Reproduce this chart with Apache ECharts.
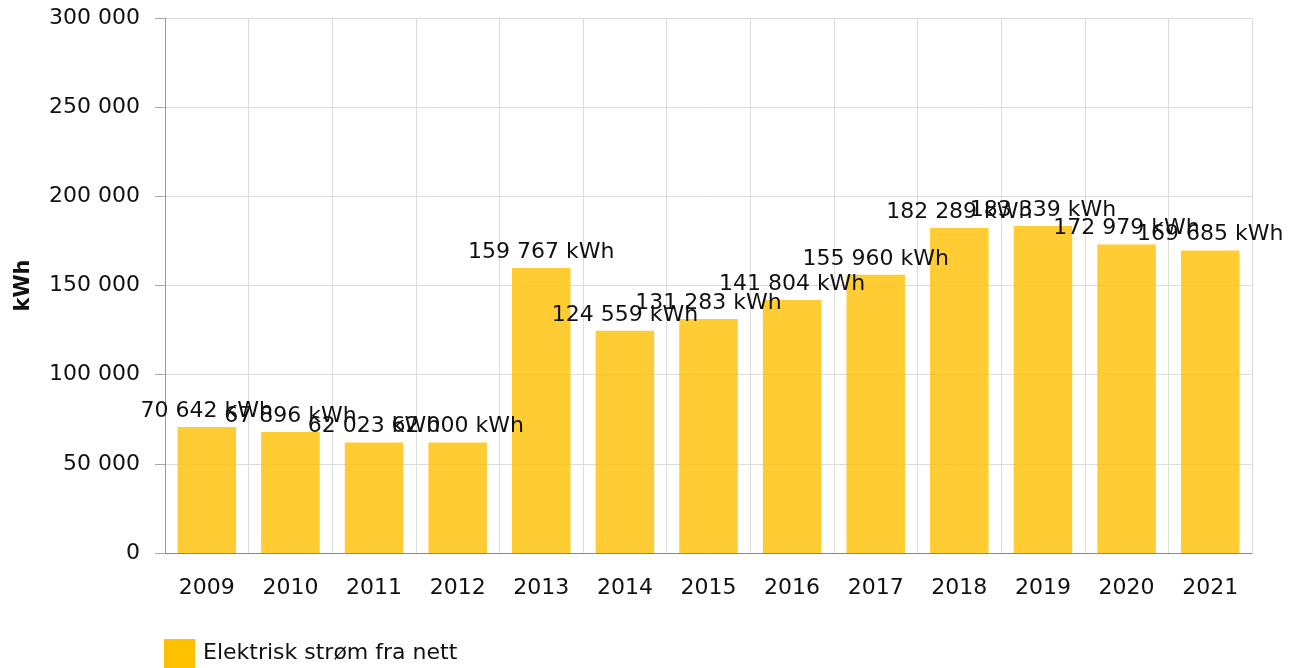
<!DOCTYPE html>
<html>
<head>
<meta charset="utf-8">
<script src="https://cdn.jsdelivr.net/npm/echarts@6/dist/echarts.min.js"></script>
<style>
html, body { margin: 0; padding: 0; background: #fff; }
#chart { width: 1299px; height: 668px; }
</style>
</head>
<body>
<div id="chart"></div>
<script>
var years = ["2009", "2010", "2011", "2012", "2013", "2014", "2015", "2016", "2017", "2018", "2019", "2020", "2021"];
var stromFraNett = [70642, 67896, 62023, 62000, 159767, 124559, 131283, 141804, 155960, 182289, 183339, 172979, 169685];
var seriesName = "Elektrisk strøm fra nett";

function fmt(v) {
  return String(v).replace(/\B(?=(\d{3})+(?!\d))/g, " ");
}

var chart = echarts.init(document.getElementById("chart"));
chart.setOption({
  animation: false,
  textStyle: { fontFamily: "DejaVu Sans" },
  grid: { left: 165, right: 47, top: 18, bottom: 115 },
  legend: {
    left: 164, bottom: 0, padding: 0,
    icon: "rect",
    itemWidth: 31, itemHeight: 29, itemGap: 8,
    textStyle: { fontSize: 22, color: "#111", fontFamily: "DejaVu Sans", padding: [0, 0, 0, 3] },
    data: [{ name: seriesName, itemStyle: { color: "#FFC000" } }]
  },
  xAxis: {
    type: "category",
    data: years,
    axisLine: { lineStyle: { color: "#888" } },
    axisTick: { alignWithLabel: true, length: 8, lineStyle: { color: "#aaa" } },
    axisLabel: { fontSize: 22, color: "#111", margin: 24 },
    splitLine: { show: true, lineStyle: { color: "#dcdcdc" } }
  },
  yAxis: {
    type: "value",
    min: 0, max: 300000, interval: 50000,
    name: "kWh",
    nameLocation: "middle",
    nameGap: 131,
    nameTextStyle: { fontSize: 21, fontWeight: "bold", color: "#111" },
    axisLine: { show: true, lineStyle: { color: "#999" } },
    axisTick: { show: true, length: 10, lineStyle: { color: "#aaa" } },
    axisLabel: { fontSize: 22, color: "#111", margin: 25, formatter: fmt },
    splitLine: { lineStyle: { color: "#dcdcdc" } }
  },
  series: [{
    name: seriesName,
    type: "bar",
    data: stromFraNett,
    barWidth: "70%",
    itemStyle: { color: "rgba(255,192,0,0.8)" },
    label: {
      show: true,
      position: "top",
      distance: 5,
      fontSize: 22,
      color: "#111",
      formatter: function (p) { return fmt(p.value) + " kWh"; }
    },
    labelLayout: { hideOverlap: false }
  }]
});
</script>
</body>
</html>
